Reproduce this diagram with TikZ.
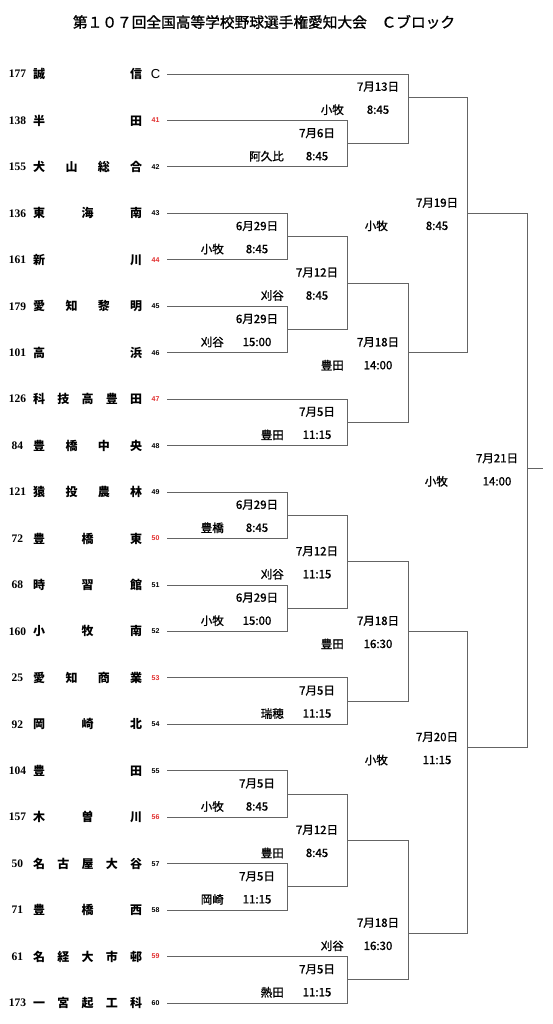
\documentclass[tikz,border=0pt]{standalone}
\usepackage{fontspec}
\setmainfont{Liberation Sans}
\newfontfamily\jp{Noto Sans CJK JP}
\newfontfamily\jpm[FakeBold=1.2]{Noto Sans CJK JP}
\newfontfamily\numfont{Liberation Serif}
\usetikzlibrary{positioning,calc}
\definecolor{bline}{RGB}{100,100,100}
\definecolor{seedred}{RGB}{225,45,45}
\tikzset{
  bracket/.style={draw=bline,line width=0.9pt},
  teamno/.style={inner sep=0pt,font=\numfont\bfseries\fontsize{11.5}{12}\selectfont},
  teamname/.style={inner sep=0pt,anchor=west,font=\jp\bfseries\fontsize{12}{12}\selectfont},
  seedno/.style={inner sep=0pt,text=#1,font=\bfseries\fontsize{7}{7}\selectfont},
  datelbl/.style={inner sep=0pt,font=\jpm\fontsize{11.5}{12}\selectfont},
  venuelbl/.style={inner sep=0pt,anchor=east,font=\jpm\fontsize{11.5}{12}\selectfont},
}

\begin{document}
\begin{tikzpicture}[x=1pt,y=-1pt]
  \useasboundingbox (0,0) rectangle (553,1024);

  \node[font=\jpm\fontsize{14.7}{15}\selectfont] (title) at (264,22)
    {第１０７回全国高等学校野球選手権愛知大会　Ｃブロック};

  % teams
  \foreach \i/\no/\nm/\sd/\sc in {
      0/177/{誠\hfill 信}/{\fontsize{13}{13}\selectfont\mdseries C}/black,
      1/138/{半\hfill 田}/41/seedred,
      2/155/{犬\hfill 山\hfill 総\hfill 合}/42/black,
      3/136/{東\hfill 海\hfill 南}/43/black,
      4/161/{新\hfill 川}/44/seedred,
      5/179/{愛\hfill 知\hfill 黎\hfill 明}/45/black,
      6/101/{高\hfill 浜}/46/black,
      7/126/{科\hfill 技\hfill 高\hfill 豊\hfill 田}/47/seedred,
      8/84/{豊\hfill 橋\hfill 中\hfill 央}/48/black,
      9/121/{猿\hfill 投\hfill 農\hfill 林}/49/black,
      10/72/{豊\hfill 橋\hfill 東}/50/seedred,
      11/68/{時\hfill 習\hfill 館}/51/black,
      12/160/{小\hfill 牧\hfill 南}/52/black,
      13/25/{愛\hfill 知\hfill 商\hfill 業}/53/seedred,
      14/92/{岡\hfill 崎\hfill 北}/54/black,
      15/104/{豊\hfill 田}/55/black,
      16/157/{木\hfill 曽\hfill 川}/56/seedred,
      17/50/{名\hfill 古\hfill 屋\hfill 大\hfill 谷}/57/black,
      18/71/{豊\hfill 橋\hfill 西}/58/black,
      19/61/{名\hfill 経\hfill 大\hfill 市\hfill 邨}/59/seedred,
      20/173/{一\hfill 宮\hfill 起\hfill 工\hfill 科}/60/black} {
    \node[teamno] (no\i) at (17.5,{74+46.45*\i}) {\no};
    \node[teamname] (nm\i) at (33,{74+46.45*\i}) {\makebox[109pt]{\nm}};
    \node[seedno=\sc] (sd\i) at (155.5,{74+46.45*\i}) {\sd};
    \coordinate (t\i) at (167,{74+46.45*\i});
  }

  % matches: name/x/row/upper/lower/date/venue/time/venue offset
  \foreach \m/\x/\r/\ca/\cb/\dt/\vn/\tm/\vo in {
      a1/287/3.5/t3/t4/6月29日/小牧/8:45/63,
      a2/287/5.5/t5/t6/6月29日/刈谷/15:00/63,
      a3/287/9.5/t9/t10/6月29日/豊橋/8:45/63,
      a4/287/11.5/t11/t12/6月29日/小牧/15:00/63,
      a5/287/15.5/t15/t16/7月5日/小牧/8:45/63,
      a6/287/17.5/t17/t18/7月5日/岡崎/11:15/63,
      b1/347/1.5/t1/t2/7月6日/阿久比/8:45/63,
      b2/347/4.5/a1/a2/7月12日/刈谷/8:45/63,
      b3/347/7.5/t7/t8/7月5日/豊田/11:15/63,
      b4/347/10.5/a3/a4/7月12日/刈谷/11:15/63,
      b5/347/13.5/t13/t14/7月5日/瑞穂/11:15/63,
      b6/347/16.5/a5/a6/7月12日/豊田/8:45/63,
      b7/347/19.5/t19/t20/7月5日/熱田/11:15/63,
      c1/408/0.5/t0/b1/7月13日/小牧/8:45/64,
      c2/408/6/b2/b3/7月18日/豊田/14:00/64,
      c3/408/12/b4/b5/7月18日/豊田/16:30/64,
      c4/408/18.5/b6/b7/7月18日/刈谷/16:30/64,
      d1/467/3/c1/c2/7月19日/小牧/8:45/79,
      d2/467/14.5/c3/c4/7月20日/小牧/11:15/79,
      fin/527/8.5/d1/d2/7月21日/小牧/14:00/79} {
    \coordinate (\m) at (\x,{74+46.45*\r});
    \draw[bracket] (\ca) -- (\ca -| \m) -- (\cb -| \m) -- (\cb);
    \node[datelbl] (\m-date) at ([xshift=-30pt,yshift=10.5pt]\m) {\dt};
    \node[datelbl] (\m-time) at ([xshift=-30pt,yshift=-12.5pt]\m) {\tm};
    \node[venuelbl] (\m-venue) at ([xshift=-\vo pt,yshift=-12.5pt]\m) {\vn};
  }

  \coordinate (win) at (543,{74+46.45*8.5});
  \draw[bracket] (fin) -- (win);
\end{tikzpicture}
\end{document}
